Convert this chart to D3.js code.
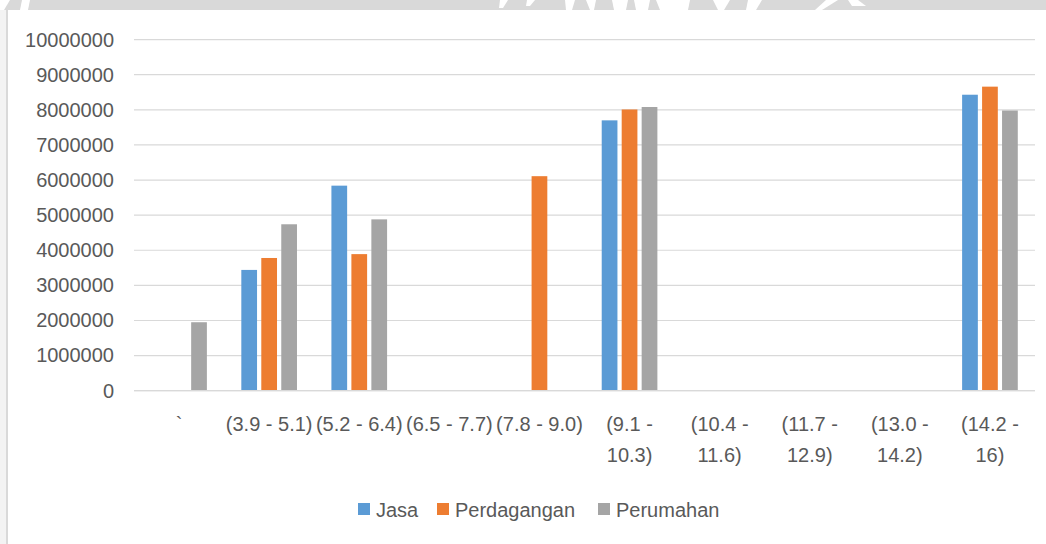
<!DOCTYPE html>
<html>
<head>
<meta charset="utf-8">
<script src="https://cdn.jsdelivr.net/npm/d3@7/dist/d3.min.js"></script>
<style>
  html, body { margin: 0; padding: 0; background: #ffffff; }
  svg { display: block; }
  text { font-family: "Liberation Sans", Arial, sans-serif; fill: #595959; }
</style>
</head>
<body>
<svg id="chart" width="1046" height="544"></svg>
<script>
// Categories (interval classes) and values for each land-use series
const categories = ["`", "(3.9 - 5.1)", "(5.2 - 6.4)", "(6.5 - 7.7)", "(7.8 - 9.0)",
                    "(9.1 - 10.3)", "(10.4 - 11.6)", "(11.7 - 12.9)", "(13.0 - 14.2)", "(14.2 - 16)"];
const seriesNames = ["Jasa", "Perdagangan", "Perumahan"];
const jasa        = [null, 3440000, 5840000, null, null,    7700000, null, null, null, 8430000];
const perdagangan = [null, 3780000, 3890000, null, 6110000, 8010000, null, null, null, 8660000];
const perumahan   = [1950000, 4740000, 4880000, null, null, 8080000, null, null, null, 7980000];
const yTicks = [0, 1000000, 2000000, 3000000, 4000000, 5000000, 6000000, 7000000, 8000000, 9000000, 10000000];
const colors = ["#5B9BD5", "#ED7D31", "#A5A5A5"];

const seriesValues = [jasa, perdagangan, perumahan];
const rows = categories.map((c, i) => ({
  cat: c,
  vals: seriesNames.map((s, k) => ({ series: s, k: k, v: seriesValues[k][i] }))
}));

const svg = d3.select("#chart");
const W = 1046, H = 544;

// Frame: grey band across the top and thin rule on the left
svg.append("rect").attr("x", 0).attr("y", 0).attr("width", 7).attr("height", H).attr("fill", "#f3f3f3");
svg.append("rect").attr("x", 0).attr("y", 0).attr("width", W).attr("height", 10).attr("fill", "#d9d9d9");
svg.append("rect").attr("x", 6).attr("y", 10).attr("width", 2).attr("height", H - 10).attr("fill", "#d9d9d9");
// faint emblem fragments in the top band
const frag = [
  [[0,0],[10,0],[4,10],[0,10]], [[22,0],[30,0],[28,10],[20,10]],
  [[500,0],[508,0],[503,8],[499,8]],
  [[527,0],[535,0],[530,6],[526,6]], [[565,0],[575,0],[572,10],[566,10]],
  [[586,0],[596,0],[594,10],[590,10]], [[612,0],[628,0],[626,10],[614,10]],
  [[634,0],[650,0],[648,10],[636,10]], [[656,0],[690,0],[688,10],[660,10]],
  [[713,0],[730,0],[724,10],[718,10]], [[748,0],[762,0],[756,10],[746,10]],
  [[826,0],[838,0],[822,10],[815,10]], [[848,0],[858,0],[866,6],[852,6]]
];
svg.append("g").selectAll("path").data(frag).join("path")
  .attr("d", p => "M" + p.map(q => q.join(",")).join("L") + "Z")
  .attr("fill", "#ffffff");

const plotLeft = 134, plotRight = 1035, plotBottom = 390.7, plotTop = 39.6;

const x0 = d3.scaleBand().domain(categories).range([plotLeft, plotRight]).paddingInner(0).paddingOuter(0);
const x1 = d3.scaleBand().domain(seriesNames).range([0, x0.bandwidth()])
  .paddingInner(0.2126).paddingOuter(0.862);
const y = d3.scaleLinear().domain([0, 10000000]).range([plotBottom, plotTop]);

// Horizontal gridlines
svg.append("g").selectAll("line").data(yTicks).join("line")
  .attr("x1", plotLeft).attr("x2", plotRight)
  .attr("y1", d => y(d)).attr("y2", d => y(d))
  .attr("stroke", "#d9d9d9").attr("stroke-width", 1.2);

// Y axis labels
const yAxis = d3.axisLeft(y).tickValues(yTicks).tickSize(0).tickPadding(20).tickFormat(d3.format("d"));
const gy = svg.append("g").attr("transform", `translate(${plotLeft},0)`).call(yAxis);
gy.select(".domain").remove();
gy.selectAll("text").attr("font-size", 20).attr("fill", "#595959")
  .style("font-family", '"Liberation Sans", Arial, sans-serif');

// Bars
const groups = svg.append("g").selectAll("g").data(rows).join("g")
  .attr("transform", d => `translate(${x0(d.cat)},0)`);
groups.selectAll("rect").data(d => d.vals.filter(v => v.v !== null)).join("rect")
  .attr("x", d => x1(d.series))
  .attr("width", x1.bandwidth())
  .attr("y", d => y(d.v))
  .attr("height", d => y(0) - y(d.v))
  .attr("fill", d => colors[d.k]);

// Zero line
svg.append("line").attr("x1", plotLeft).attr("x2", plotRight)
  .attr("y1", y(0)).attr("y2", y(0)).attr("stroke", "#d9d9d9").attr("stroke-width", 1.2);

// X axis labels; labels wider than their band wrap after the dash
const xAxis = d3.axisBottom(x0).tickSize(0).tickPadding(0);
const gx = svg.append("g").attr("transform", `translate(0,${plotBottom})`).call(xAxis);
gx.select(".domain").remove();
gx.selectAll("text").each(function(d) {
  const t = d3.select(this);
  t.attr("y", 0).attr("dy", null)
    .attr("font-size", 20).attr("fill", "#595959")
    .style("font-family", '"Liberation Sans", Arial, sans-serif');
  const tooWide = this.getComputedTextLength() > x0.bandwidth();
  t.text(null);
  const parts = d.split(" - ");
  const lines = tooWide && parts.length === 2 ? [parts[0] + " -", parts[1]] : [d];
  lines.forEach((ln, i) => {
    t.append("tspan").attr("x", 0).attr("y", 40.5 + i * 31).text(ln);
  });
});

// Legend
const legendX = [358, 437, 598];
const leg = svg.append("g").selectAll("g").data(seriesNames).join("g")
  .attr("transform", (d, i) => `translate(${legendX[i]},503)`);
leg.append("rect").attr("width", 12).attr("height", 12).attr("fill", (d, i) => colors[i]);
leg.append("text").attr("x", 18).attr("y", 13.5).attr("font-size", 20).text(d => d);
</script>
</body>
</html>
